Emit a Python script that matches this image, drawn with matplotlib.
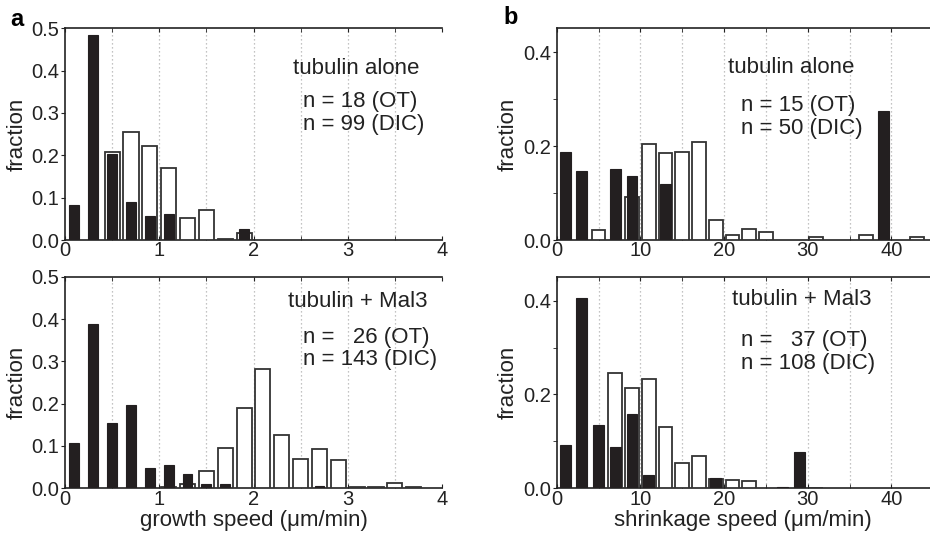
import numpy as np
import matplotlib
matplotlib.use("Agg")
import matplotlib.pyplot as plt
from matplotlib.ticker import MultipleLocator

plt.rcParams['font.family'] = ['Liberation Sans', 'DejaVu Sans']

# growth speed histograms (um/min), bin centres
growth_bins = [0.1, 0.3, 0.5, 0.7, 0.9, 1.1, 1.3, 1.5, 1.7, 1.9,
               2.1, 2.3, 2.5, 2.7, 2.9, 3.1, 3.3, 3.5, 3.7, 3.9]
growth_alone_ot = [0.083, 0.484, 0.203, 0.090, 0.057, 0.061, 0, 0, 0, 0.025,
                   0, 0, 0, 0, 0, 0, 0, 0, 0, 0]
growth_alone_dic = [0, 0, 0.209, 0.256, 0.222, 0.171, 0.051, 0.071, 0.002, 0.017,
                    0, 0, 0, 0, 0, 0, 0, 0, 0, 0]
growth_mal3_ot = [0.106, 0.388, 0.154, 0.197, 0.047, 0.056, 0.034, 0.011, 0.009, 0,
                  0, 0, 0, 0.006, 0, 0, 0, 0, 0, 0]
growth_mal3_dic = [0, 0, 0, 0, 0, 0.002, 0.010, 0.042, 0.096, 0.190,
                   0.283, 0.126, 0.069, 0.092, 0.068, 0.002, 0.004, 0.013, 0.002, 0]

# shrinkage speed histograms (um/min), bin centres
shrink_bins = [1, 3, 5, 7, 9, 11, 13, 15, 17, 19, 21,
               23, 25, 27, 29, 31, 33, 35, 37, 39, 41, 43]
shrink_alone_ot = [0.187, 0.146, 0, 0.151, 0.137, 0, 0.120, 0, 0, 0, 0,
                   0, 0, 0, 0, 0, 0, 0, 0, 0.274, 0, 0]
shrink_alone_dic = [0, 0, 0.022, 0, 0.091, 0.205, 0.185, 0.188, 0.209, 0.043, 0.010,
                    0.023, 0.016, 0, 0, 0.006, 0, 0, 0.011, 0, 0, 0.007]
shrink_mal3_ot = [0.093, 0.405, 0.135, 0.089, 0.158, 0.028, 0, 0, 0, 0.023, 0,
                  0, 0, 0.002, 0.078, 0, 0, 0, 0, 0, 0, 0]
shrink_mal3_dic = [0, 0, 0, 0.245, 0.213, 0.234, 0.131, 0.053, 0.069, 0.020, 0.017,
                   0.016, 0, 0, 0, 0.001, 0, 0, 0, 0, 0, 0]

W, H = 930, 537
fig = plt.figure(figsize=(W / 100, H / 100), dpi=100)


def make_axes(x0, x1, ytop, ybot):
    return fig.add_axes([x0 / W, 1 - ybot / H, (x1 - x0) / W, (ybot - ytop) / H])


def draw_hist(ax, bins, ot, dic, w_dic, w_ot):
    bins = np.array(bins)
    ot = np.array(ot)
    dic = np.array(dic)
    m = dic > 0
    ax.bar(bins[m], dic[m], width=w_dic, color='white', edgecolor='#333333',
           linewidth=1.3, zorder=3)
    m = ot > 0
    ax.bar(bins[m], ot[m], width=w_ot, color='#231f20', edgecolor='#231f20',
           linewidth=0.8, zorder=4)


def style(ax, xmax, ymax, xmajor, xgrid, ymajor, yminor, yfmt):
    ax.set_xlim(0, xmax)
    ax.set_ylim(0, ymax)
    ax.spines['right'].set_visible(False)
    for s in ['left', 'bottom', 'top']:
        ax.spines[s].set_linewidth(1.2)
        ax.spines[s].set_color('#222222')
    ax.xaxis.set_major_locator(MultipleLocator(xmajor))
    ax.xaxis.set_minor_locator(MultipleLocator(xgrid))
    ax.yaxis.set_major_locator(MultipleLocator(ymajor))
    ax.yaxis.set_minor_locator(MultipleLocator(yminor))
    ax.yaxis.set_major_formatter(plt.FormatStrFormatter(yfmt))
    ax.tick_params(axis='x', which='both', direction='in', top=True, length=3,
                   labelsize=14.5, pad=1, colors='#222222')
    ax.tick_params(axis='y', which='both', direction='out', length=3,
                   labelsize=14.5, pad=1, colors='#222222')
    for x in np.arange(xgrid, xmax, xgrid):
        ax.axvline(x, color='#b0b0b0', linestyle=(0, (1, 2.2)), linewidth=0.9, zorder=1)
    ax.set_ylabel('fraction', fontsize=16, labelpad=3, color='#222222')


# panel a
ax1 = make_axes(65, 442, 28.3, 240)
draw_hist(ax1, growth_bins, growth_alone_ot, growth_alone_dic, 0.16, 0.105)
style(ax1, 4, 0.5, 1, 0.5, 0.1, 0.1, '%.1f')
ax1.text(2.42, 0.405, 'tubulin alone', fontsize=16, va='center', color='#222222')
ax1.text(2.53, 0.3, 'n = 18 (OT)\nn = 99 (DIC)', fontsize=16, va='center',
         linespacing=1.1, color='#222222')

ax2 = make_axes(65, 442, 276.7, 488.3)
draw_hist(ax2, growth_bins, growth_mal3_ot, growth_mal3_dic, 0.16, 0.105)
style(ax2, 4, 0.5, 1, 0.5, 0.1, 0.1, '%.1f')
ax2.set_xlabel('growth speed (\u03bcm/min)', fontsize=16, labelpad=1, color='#222222')
ax2.text(2.37, 0.442, 'tubulin + Mal3', fontsize=16, va='center', color='#222222')
ax2.text(2.53, 0.33, 'n =   26 (OT)\nn = 143 (DIC)', fontsize=16, va='center',
         linespacing=1.1, color='#222222')

# panel b
ax3 = make_axes(556.7, 930, 28.3, 240)
draw_hist(ax3, shrink_bins, shrink_alone_ot, shrink_alone_dic, 1.65, 1.3)
style(ax3, 44.6, 0.451, 10, 5, 0.2, 0.1, '%.1f')
ax3.text(20.5, 0.368, 'tubulin alone', fontsize=16, va='center', color='#222222')
ax3.text(22.0, 0.262, 'n = 15 (OT)\nn = 50 (DIC)', fontsize=16, va='center',
         linespacing=1.1, color='#222222')

ax4 = make_axes(556.7, 930, 276.7, 488.3)
draw_hist(ax4, shrink_bins, shrink_mal3_ot, shrink_mal3_dic, 1.65, 1.3)
style(ax4, 44.6, 0.451, 10, 5, 0.2, 0.1, '%.1f')
ax4.set_xlabel('shrinkage speed (\u03bcm/min)', fontsize=16, labelpad=1, color='#222222')
ax4.text(20.9, 0.402, 'tubulin + Mal3', fontsize=16, va='center', color='#222222')
ax4.text(22.0, 0.29, 'n =   37 (OT)\nn = 108 (DIC)', fontsize=16, va='center',
         linespacing=1.1, color='#222222')

fig.text(10 / W, 1 - 19 / H, 'a', fontsize=17, fontweight='bold', va='center')
fig.text(503 / W, 1 - 18 / H, 'b', fontsize=17, fontweight='bold', va='center')

fig.savefig('out.png', dpi=100)
